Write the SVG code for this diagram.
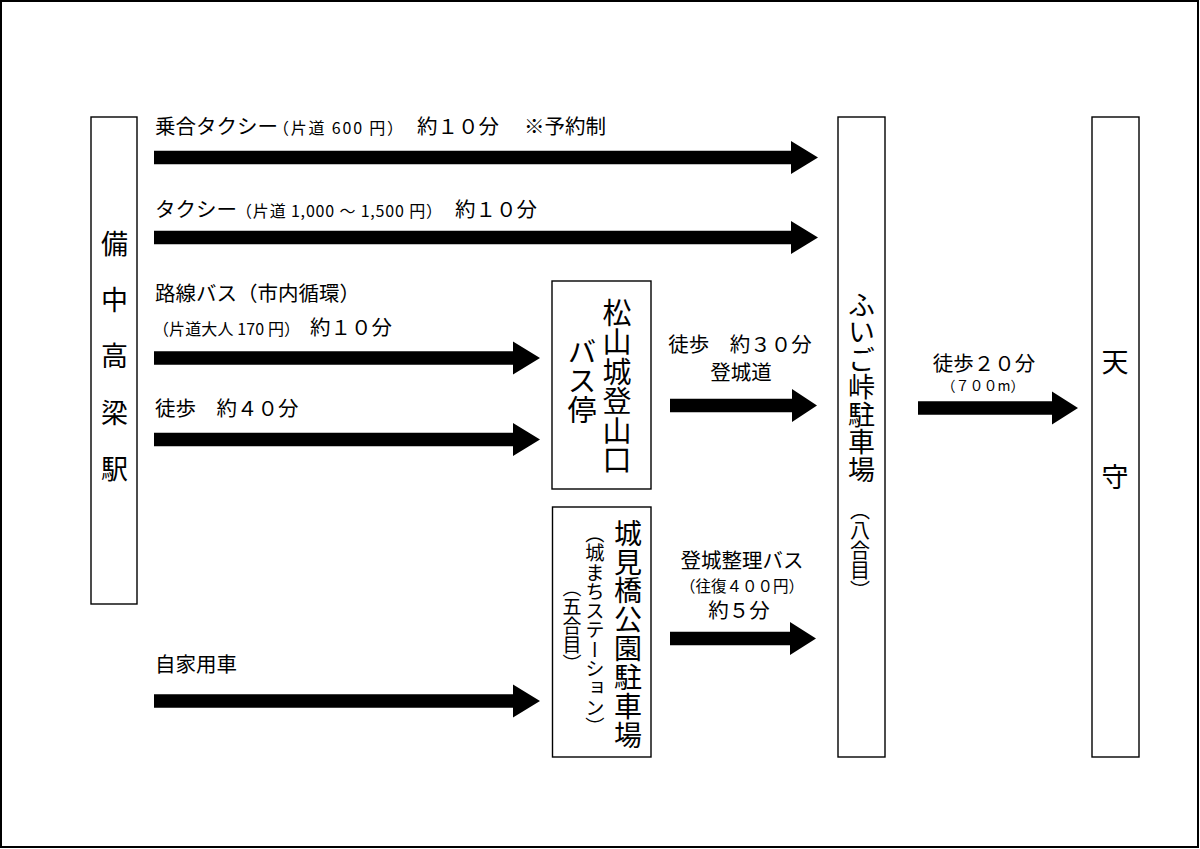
<svg xmlns="http://www.w3.org/2000/svg" width="1200" height="849" viewBox="0 0 1200 849">
<style>
text{font-family:"Noto Sans CJK JP","Noto Sans",sans-serif;fill:#000;}
.box{fill:#fff;stroke:#000;stroke-width:1.4;}
.lbl{font-size:20.5px;}
.sm{font-size:16px;}
.mid{text-anchor:middle;}
.v{writing-mode:vertical-rl;text-anchor:start;}
.c{dominant-baseline:central;text-anchor:middle;font-size:27px;}
.arr{fill:#000;stroke:none;}
</style>
<rect x="1" y="1" width="1197" height="846" fill="#fff" stroke="#000" stroke-width="2"/>

<g id="station">
<rect class="box" x="91" y="117" width="46" height="487"/>
<text class="c" x="114.5" y="242">備</text>
<text class="c" x="114.5" y="298">中</text>
<text class="c" x="114.5" y="354">高</text>
<text class="c" x="114.5" y="411">梁</text>
<text class="c" x="114.5" y="467">駅</text>
</g>

<g id="busstop">
<rect class="box" x="552" y="281" width="99" height="208"/>
<text class="v" x="617" y="298.5" font-size="29" letter-spacing="0.4">松山城登山口</text>
<text class="v" x="582" y="337.5" font-size="29">バス停</text>
</g>

<g id="shiromibashi">
<rect class="box" x="552.5" y="507" width="98.5" height="250"/>
<text class="v" x="628" y="519" font-size="28" letter-spacing="0.9">城見橋公園駐車場</text>
<text class="v" x="595" y="524" font-size="19.3">（城まちステーション）</text>
<text class="v" x="572" y="578" font-size="19">（五合目）</text>
</g>

<g id="fuigo">
<rect class="box" x="838" y="117" width="47" height="640"/>
<text class="v" x="861.5" y="291" font-size="27" letter-spacing="0.5">ふいご峠駐車場</text>
<text class="v" x="860" y="500" font-size="20">（八合目）</text>
</g>

<g id="tenshu">
<rect class="box" x="1092" y="117" width="47" height="640"/>
<text class="c" x="1115" y="360">天</text>
<text class="c" x="1115" y="475">守</text>
</g>

<g id="connectors">
<path class="arr" d="M154,150.75 H791 V141 L818,157.5 L791,174 V164.25 H154 Z"/>
<path class="arr" d="M154,230.75 H791 V221 L818,237.5 L791,254 V244.25 H154 Z"/>
<path class="arr" d="M154,351.25 H513 V341.5 L540,358 L513,374.5 V364.75 H154 Z"/>
<path class="arr" d="M154,432.75 H513 V423 L540,439.5 L513,456 V446.25 H154 Z"/>
<path class="arr" d="M154,694.25 H513 V684.5 L540,701 L513,717.5 V707.75 H154 Z"/>
<path class="arr" d="M670,398.75 H792 V389 L817,405.5 L792,422 V412.25 H670 Z"/>
<path class="arr" d="M670,631.75 H790 V622 L816,638.5 L790,655 V645.25 H670 Z"/>
<path class="arr" d="M918,401.25 H1052 V391.5 L1078,408 L1052,424.5 V414.75 H918 Z"/>

<g id="labels">
<text class="lbl" x="155" y="134">乗合タクシー</text>
<text class="sm" x="273" y="134" textLength="130" lengthAdjust="spacing">（片道 600 円）</text>
<text class="lbl" x="417" y="134">約１０分</text>
<text class="lbl" x="524" y="134">※予約制</text>

<text class="lbl" x="155" y="217">タクシー</text>
<text class="sm" x="236" y="217" textLength="206" lengthAdjust="spacing">（片道 1,000 ～ 1,500 円）</text>
<text class="lbl" x="455" y="217">約１０分</text>

<text class="lbl" x="155" y="301">路線バス（市内循環）</text>
<text class="sm" x="153" y="335" textLength="147" lengthAdjust="spacing">（片道大人 170 円）</text>
<text class="lbl" x="310" y="335">約１０分</text>

<text class="lbl" x="155" y="416">徒歩　約４０分</text>
<text class="lbl" x="155" y="672">自家用車</text>

<text class="lbl mid" x="740" y="352">徒歩　約３０分</text>
<text class="lbl mid" x="741" y="380">登城道</text>

<text class="lbl mid" x="742" y="568">登城整理バス</text>
<text class="mid" x="742" y="592" font-size="15.5">（往復４００円）</text>
<text class="lbl mid" x="739" y="618">約５分</text>

<text class="lbl mid" x="984" y="371">徒歩２０分</text>
<text class="mid" x="983" y="391" font-size="14">（７００m）</text>
</g>
</g>
</svg>
